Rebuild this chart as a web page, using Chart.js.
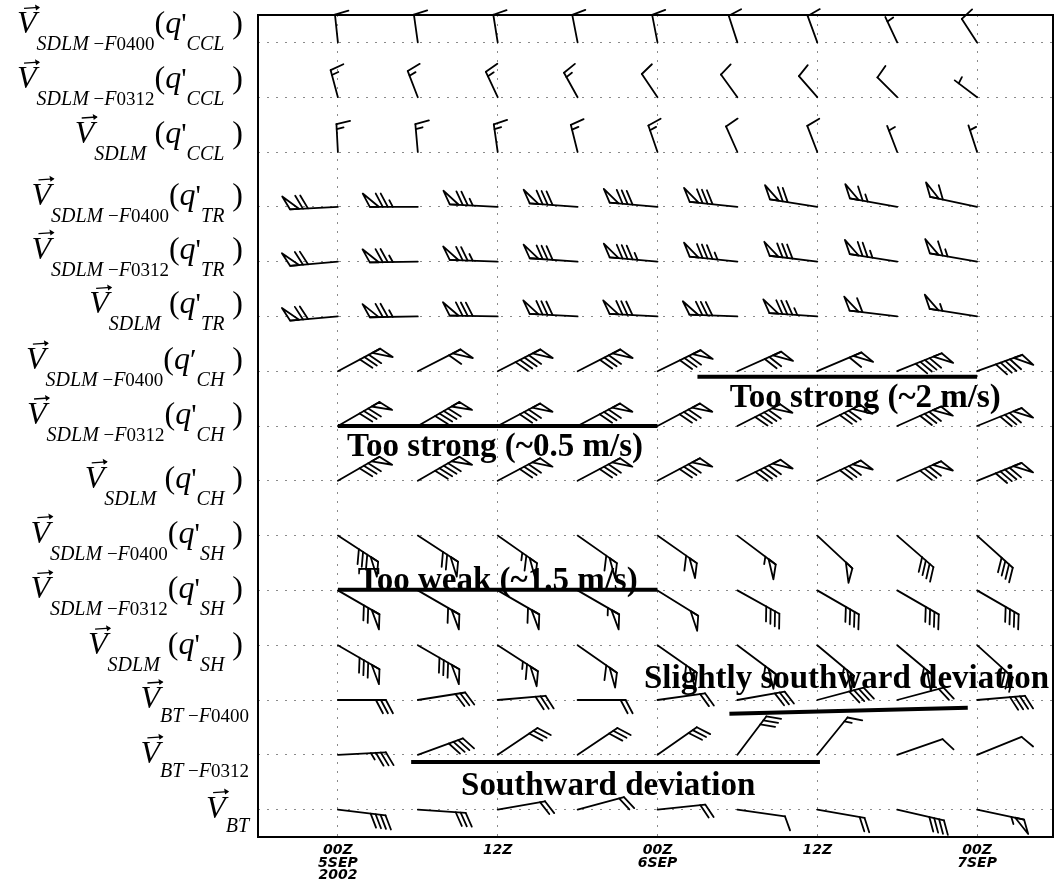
<!DOCTYPE html>
<html>
<head>
<meta charset="utf-8">
<script src="https://cdn.jsdelivr.net/npm/chart.js@4.4.1/dist/chart.umd.min.js"></script>
<style>
  html, body { margin: 0; padding: 0; background: #fff; }
  canvas { display: block; }
</style>
</head>
<body>
<canvas id="barbs" width="1055" height="882"></canvas>
<script>
// time axis: hours after 00Z 5 Sep 2002
const hours = [0, 6, 12, 18, 24, 30, 36, 42, 48];
const tickHours = [0, 12, 24, 36, 48];
const tickLabels = [['00Z', '5SEP', '2002'], '12Z', ['00Z', '6SEP'], '12Z', ['00Z', '7SEP']];

// row labels, top to bottom
const rowSubs = ['SDLM −F0400', 'SDLM −F0312', 'SDLM',
                 'SDLM −F0400', 'SDLM −F0312', 'SDLM',
                 'SDLM −F0400', 'SDLM −F0312', 'SDLM',
                 'SDLM −F0400', 'SDLM −F0312', 'SDLM',
                 'BT −F0400', 'BT −F0312', 'BT'];
const rowMoist = ['CCL', 'CCL', 'CCL', 'TR', 'TR', 'TR', 'CH', 'CH', 'CH', 'SH', 'SH', 'SH', '', '', ''];

// barb direction (deg, where the staff points) and speed (barb units) per row
const dirCclF0400 = [354, 352, 351, 349, 349, 342, 340, 335, 327];
const spdCclF0400 = [10, 10, 10, 10, 10, 10, 10, 5, 10];
const dirCclF0312 = [345, 339, 335, 331, 326, 324, 319, 315, 307];
const spdCclF0312 = [15, 15, 15, 15, 10, 10, 10, 10, 5];
const dirCcl = [357, 355, 352, 346, 341, 336, 339, 339, 342];
const spdCcl = [15, 15, 15, 15, 15, 10, 10, 5, 5];

const dirTrF0400 = [267, 270, 273, 274, 275, 276, 279, 280, 282];
const spdTrF0400 = [70, 75, 75, 80, 80, 80, 70, 65, 60];
const dirTrF0312 = [265, 269, 272, 274, 275, 276, 277, 279, 280];
const spdTrF0312 = [70, 75, 75, 80, 85, 85, 80, 75, 65];
const dirTr = [265, 269, 271, 273, 273, 272, 274, 277, 279];
const spdTr = [70, 75, 80, 80, 80, 80, 85, 60, 55];

const dirChF0400 = [62, 63, 63, 63, 64, 66, 67, 68, 70];
const spdChF0400 = [80, 60, 90, 80, 80, 70, 60, 90, 90];
const dirChF0312 = [60, 60, 62, 62, 62, 63, 64, 66, 68];
const spdChF0312 = [80, 90, 80, 80, 80, 90, 80, 80, 80];
const dirCh = [60, 60, 62, 62, 62, 64, 65, 66, 68];
const spdCh = [80, 90, 80, 80, 80, 90, 80, 80, 90];

const dirShF0400 = [123, 123, 125, 125, 125, 127, 133, 131, 132];
const spdShF0400 = [80, 70, 65, 60, 60, 55, 50, 40, 40];
const dirShF0312 = [120, 120, 120, 120, 122, 119, 120, 120, 120];
const spdShF0312 = [70, 60, 60, 55, 50, 40, 40, 40, 40];
const dirSh = [120, 120, 123, 125, 125, 127, 130, 130, 132];
const spdSh = [80, 80, 65, 60, 60, 55, 55, 55, 40];

const dirBtF0400 = [90, 81, 85, 90, 82, 80, 75, 75, 85];
const spdBtF0400 = [30, 30, 30, 20, 20, 30, 40, 20, 40];
const dirBtF0312 = [87, 70, 56, 56, 55, 37, 39, 71, 68];
const spdBtF0312 = [35, 40, 30, 30, 30, 30, 15, 10, 10];
const dirBt = [97, 94, 80, 75, 84, 98, 100, 103, 102];
const spdBt = [40, 30, 20, 20, 20, 10, 20, 40, 55];

const rowDirs = [dirCclF0400, dirCclF0312, dirCcl, dirTrF0400, dirTrF0312, dirTr,
                 dirChF0400, dirChF0312, dirCh, dirShF0400, dirShF0312, dirSh,
                 dirBtF0400, dirBtF0312, dirBt];
const rowSpds = [spdCclF0400, spdCclF0312, spdCcl, spdTrF0400, spdTrF0312, spdTr,
                 spdChF0400, spdChF0312, spdCh, spdShF0400, spdShF0312, spdSh,
                 spdBtF0400, spdBtF0312, spdBt];

// annotations (x in hours, y in rows)
const notes = [
  {text: 'Too strong (~2 m/s)', tx: 39.6, ty: 7.65, x0: 27.0, y0: 7.10, x1: 48.0, y1: 7.10},
  {text: 'Too strong (~0.5 m/s)', tx: 11.8, ty: 8.55, x0: 0, y0: 8.0, x1: 24, y1: 8.0},
  {text: 'Too weak (~1.5 m/s)', tx: 12.0, ty: 10.99, x0: 0, y0: 10.99, x1: 24, y1: 10.99},
  {text: 'Slightly southward deviation', tx: 38.2, ty: 12.78, x0: 29.4, y0: 13.25, x1: 47.3, y1: 13.14},
  {text: 'Southward deviation', tx: 20.3, ty: 14.73, x0: 5.5, y0: 14.13, x1: 36.2, y1: 14.13}
];

// label baseline shift from the row line (px)
const labelShift = [-9, -9, -9, -2, -3, -3, -2, -2, 7, 7, 8, 9, 8, 8, 8];

const barbCcl = {len: 28, flen: 14, tilt: 10};
const barbStd = {len: 48, flen: 15, tilt: 28};

function drawBarb(ctx, x, y, dirDeg, speed, st) {
  const a = dirDeg * Math.PI / 180;
  const ux = Math.sin(a), uy = -Math.cos(a);
  const px = Math.cos(a), py = Math.sin(a);
  const t = st.tilt * Math.PI / 180;
  const fx = px * Math.cos(t) + ux * Math.sin(t);
  const fy = py * Math.cos(t) + uy * Math.sin(t);
  const tx = x + ux * st.len, ty = y + uy * st.len;
  ctx.beginPath();
  ctx.moveTo(x, y);
  ctx.lineTo(tx, ty);
  ctx.stroke();

  let s = Math.round(speed / 5) * 5;
  const flags = Math.floor(s / 50); s -= flags * 50;
  const fulls = Math.floor(s / 10); s -= fulls * 10;
  const half = s >= 5;
  let d = 0;
  for (let k = 0; k < flags; k++) {
    const bx = tx - ux * d, by = ty - uy * d;
    ctx.beginPath();
    ctx.moveTo(bx, by);
    ctx.lineTo(bx + fx * st.flen, by + fy * st.flen);
    ctx.lineTo(bx - ux * 9, by - uy * 9);
    ctx.closePath();
    ctx.stroke();
    d += 13;
  }
  if (!flags && !fulls && half) d = 5;
  for (let k = 0; k < fulls; k++) {
    const bx = tx - ux * d, by = ty - uy * d;
    ctx.beginPath();
    ctx.moveTo(bx, by);
    ctx.lineTo(bx + fx * st.flen, by + fy * st.flen);
    ctx.stroke();
    d += 5;
  }
  if (half) {
    const bx = tx - ux * d, by = ty - uy * d;
    ctx.beginPath();
    ctx.moveTo(bx, by);
    ctx.lineTo(bx + fx * st.flen / 2, by + fy * st.flen / 2);
    ctx.stroke();
  }
}

const SERIF = '"Liberation Serif", "Times New Roman", serif';

function drawLabel(ctx, xr, yb, sub, moist, i) {
  const subDy = moist ? 17 : 14;
  const runs = [{t: 'V', f: 'italic 32px ' + SERIF, dy: 0}];
  sub.match(/[A-Z]+|\d+|[^A-Z\d]+/g).forEach(tok => {
    const f = /[A-Z]/.test(tok) ? 'italic 20px ' + SERIF : '19px ' + SERIF;
    runs.push({t: tok, f: f, dy: subDy});
  });
  if (moist) {
    runs.push({t: /\d$/.test(sub) ? '(' : ' (', f: '32px ' + SERIF, dy: 0});
    runs.push({t: 'q', f: 'italic 32px ' + SERIF, dy: 0});
    runs.push({t: i === 6 ? '′' : "'", f: '30px ' + SERIF, dy: 0});
    runs.push({t: moist, f: 'italic 20px ' + SERIF, dy: subDy});
    runs.push({t: ' )', f: '32px ' + SERIF, dy: 0});
  }
  let w = 0;
  runs.forEach(r => { ctx.font = r.f; r.w = ctx.measureText(r.t).width; w += r.w; });
  let x = xr - w;
  ctx.textAlign = 'left';
  ctx.textBaseline = 'alphabetic';
  runs.forEach((r, k) => {
    ctx.font = r.f;
    ctx.fillText(r.t, x, yb + r.dy);
    if (k === 0) {
      // vector arrow over V
      const ax0 = x + 7, ax1 = x + 22, ay = yb - 26;
      ctx.lineWidth = 1.3;
      ctx.beginPath();
      ctx.moveTo(ax0, ay + 1);
      ctx.lineTo(ax1, ay);
      ctx.stroke();
      ctx.beginPath();
      ctx.moveTo(ax1 + 1, ay);
      ctx.lineTo(ax1 - 4, ay - 3);
      ctx.lineTo(ax1 - 3, ay + 3);
      ctx.closePath();
      ctx.fill();
    }
    x += r.w;
  });
}

const barbPlugin = {
  id: 'barbs',
  afterDraw(chart) {
    const {ctx, chartArea: a} = chart;
    const xs = chart.scales.x, ys = chart.scales.y;
    ctx.save();
    ctx.strokeStyle = '#000';
    ctx.fillStyle = '#000';
    ctx.lineWidth = 2;
    ctx.strokeRect(a.left, a.top, a.right - a.left, a.bottom - a.top);

    ctx.lineWidth = 1.8;
    ctx.lineCap = 'round';
    ctx.lineJoin = 'round';
    chart.data.datasets.forEach((ds, i) => {
      const st = i < 3 ? barbCcl : barbStd;
      ds.data.forEach((p, j) => {
        drawBarb(ctx, xs.getPixelForValue(p.x), ys.getPixelForValue(p.y), ds.dir[j], ds.spd[j], st);
      });
    });

    // annotations
    notes.forEach(n => {
      ctx.lineWidth = 4;
      ctx.lineCap = 'butt';
      ctx.beginPath();
      ctx.moveTo(xs.getPixelForValue(n.x0), ys.getPixelForValue(n.y0));
      ctx.lineTo(xs.getPixelForValue(n.x1), ys.getPixelForValue(n.y1));
      ctx.stroke();
      ctx.font = 'bold 33px ' + SERIF;
      ctx.textAlign = 'center';
      ctx.textBaseline = 'alphabetic';
      ctx.fillText(n.text, xs.getPixelForValue(n.tx), ys.getPixelForValue(n.ty));
    });

    // row labels
    rowSubs.forEach((sub, i) => {
      const xr = rowMoist[i] ? a.left - 15 : a.left - 9;
      drawLabel(ctx, xr, ys.getPixelForValue(i + 1) + labelShift[i], sub, rowMoist[i], i);
    });
    ctx.restore();
  }
};

const datasets = rowDirs.map((dirs, i) => ({
  label: rowSubs[i] + ' ' + rowMoist[i],
  data: hours.map(h => ({x: h, y: i + 1})),
  dir: dirs,
  spd: rowSpds[i],
  pointRadius: 0,
  showLine: false
}));

new Chart(document.getElementById('barbs'), {
  type: 'scatter',
  data: {datasets: datasets},
  options: {
    responsive: false,
    animation: false,
    events: [],
    layout: {padding: {left: 258, top: 15, right: 2, bottom: 0}},
    plugins: {legend: {display: false}, tooltip: {enabled: false}},
    scales: {
      x: {
        type: 'linear',
        min: -6,
        max: 53.7,
        afterBuildTicks: s => { s.ticks = tickHours.map(v => ({value: v})); },
        afterFit: s => { s.height = 45; },
        grid: {color: '#8a8a8a', lineWidth: 1, drawTicks: false},
        border: {display: false, dash: [2, 7]},
        ticks: {
          autoSkip: false,
          maxRotation: 0,
          padding: 7,
          color: '#000',
          font: {family: '"DejaVu Sans", sans-serif', size: 14, weight: 'bold', style: 'italic', lineHeight: 0.9},
          callback: v => tickLabels[tickHours.indexOf(v)]
        }
      },
      y: {
        type: 'linear',
        reverse: true,
        min: 0.5,
        max: 15.5,
        afterBuildTicks: s => { s.ticks = rowSubs.map((r, i) => ({value: i + 1})); },
        afterFit: s => { s.width = 0; },
        grid: {color: '#8a8a8a', lineWidth: 1, drawTicks: false},
        border: {display: false, dash: [2, 7]},
        ticks: {display: false}
      }
    }
  },
  plugins: [barbPlugin]
});
</script>
</body>
</html>
